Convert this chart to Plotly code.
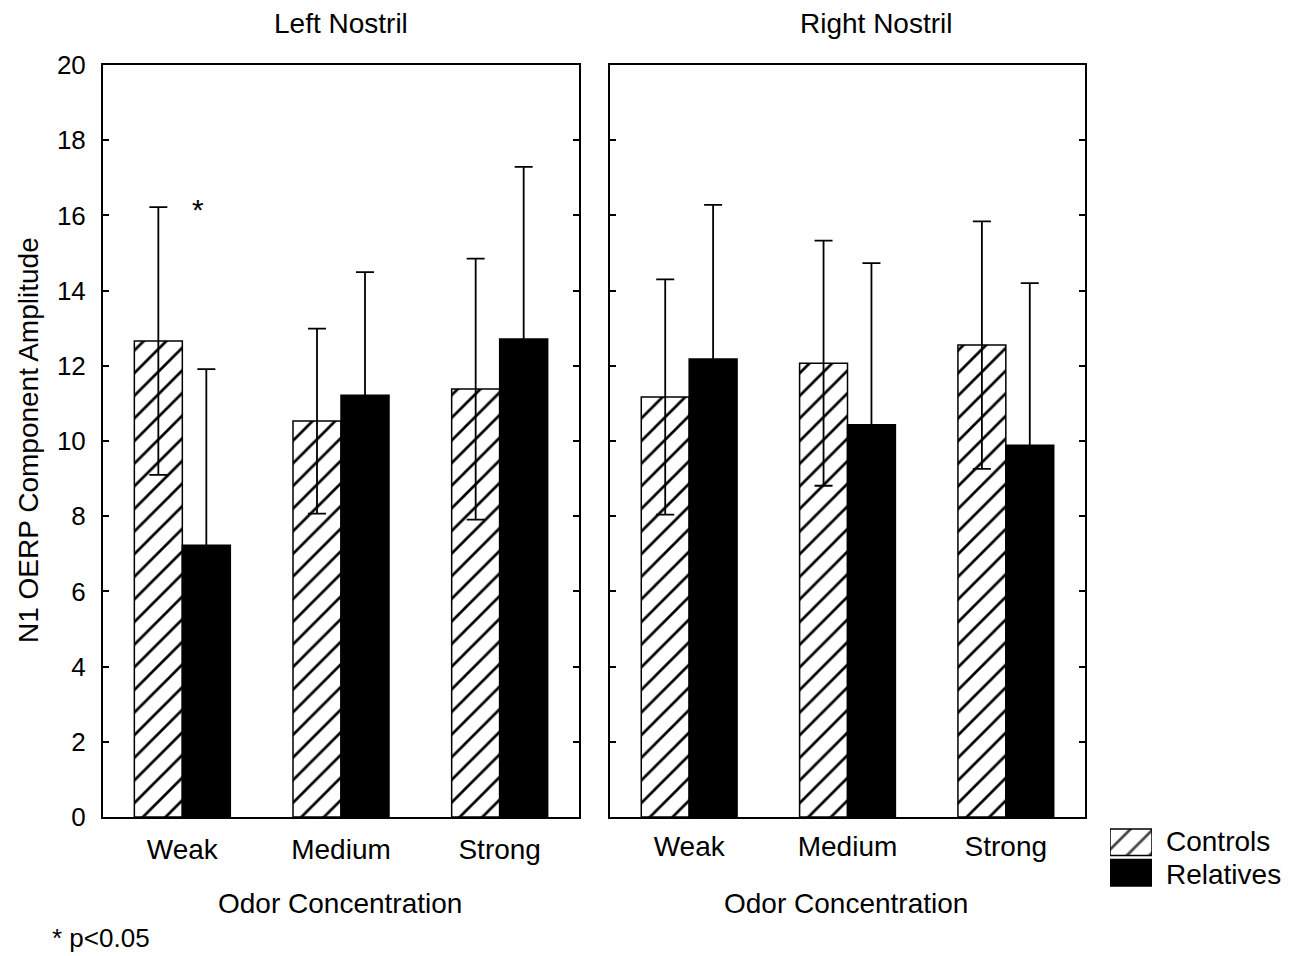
import plotly.graph_objects as go

categories = ["Weak", "Medium", "Strong"]
left_controls = [12.66, 10.53, 11.38]
left_controls_err = [3.56, 2.46, 3.47]
left_relatives = [7.23, 11.22, 12.71]
left_relatives_err = [4.68, 3.27, 4.58]
right_controls = [11.17, 12.07, 12.55]
right_controls_err = [3.13, 3.26, 3.29]
right_relatives = [12.18, 10.43, 9.89]
right_relatives_err = [4.10, 4.30, 4.31]
legend_labels = ["Relatives", "Controls"]

FONT = "Liberation Sans, Arial, sans-serif"
hatch = dict(shape="/", fgcolor="black", bgcolor="white", fgopacity=1, size=16, solidity=0.17)
err_style = dict(type="data", color="black", thickness=1.8, width=9, visible=True)

fig = go.Figure()

def add_panel(ctrl, ctrl_err, rel, rel_err, xa, ya):
    fig.add_trace(go.Bar(
        x=categories, y=ctrl, xaxis=xa, yaxis=ya, name="Controls",
        marker=dict(color="white", pattern=hatch, line=dict(color="black", width=1.5)),
        error_y=dict(array=ctrl_err, **err_style), showlegend=False))
    fig.add_trace(go.Bar(
        x=categories, y=rel, xaxis=xa, yaxis=ya, name="Relatives",
        marker=dict(color="black", line=dict(color="black", width=1.5)),
        error_y=dict(array=rel_err, **err_style), showlegend=False))

add_panel(left_controls, left_controls_err, left_relatives, left_relatives_err, "x", "y")
add_panel(right_controls, right_controls_err, right_relatives, right_relatives_err, "x2", "y2")

# legend swatches drawn as bars on a tiny hidden axis
fig.add_trace(go.Bar(
    y=legend_labels, x=[1, 1], orientation="h", xaxis="x3", yaxis="y3", width=0.87,
    marker=dict(color=["black", "white"],
                pattern=dict(shape=["", "/"], fgcolor="black", bgcolor="white", fgopacity=1,
                             size=16, solidity=0.17),
                line=dict(color="black", width=1.5)),
    showlegend=False, hoverinfo="skip"))

OFF = 8  # page body margin
W, H = 1299 - OFF, 956 - OFF
L = 103 - OFF
T = 65 - OFF
B = H - (900 - OFF)
R = W - (1280 - OFF)
pw = W - L - R
ph = H - T - B

def px(xp):  # page pixel -> paper
    return (xp - OFF - L) / pw

def py(yp):
    return (H - B - (yp - OFF)) / ph

yax = dict(range=[0, 20], dtick=2, ticks="inside", ticklen=6, tickwidth=2, tickcolor="black",
           showline=True, linecolor="black", linewidth=2, mirror="ticks", showgrid=False,
           zeroline=False, tickfont=dict(family=FONT, size=26, color="black"),
           domain=[py(817), py(65)])
xax = dict(showline=True, linecolor="black", linewidth=2, mirror=True, ticks="", showgrid=False,
           tickfont=dict(family=FONT, size=28, color="black"))

fig.update_layout(
    width=W, height=H,
    margin=dict(l=L, r=R, t=T, b=B),
    paper_bgcolor="white", plot_bgcolor="white",
    barmode="group", bargap=0.395, bargroupgap=0,
    showlegend=False,
    font=dict(family=FONT, size=28, color="black"),
    xaxis=dict(domain=[px(103), px(579)], anchor="y", ticklabelstandoff=6, **xax),
    yaxis=dict(anchor="x", ticklabelstandoff=10, **yax),
    xaxis2=dict(domain=[px(610), px(1085)], anchor="y2", ticklabelstandoff=3, **xax),
    yaxis2=dict(anchor="x2", showticklabels=False, **yax),
    xaxis3=dict(domain=[px(1110), px(1152)], anchor="y3", range=[0, 1], visible=False, fixedrange=True),
    yaxis3=dict(domain=[py(888), py(827)], anchor="x3", visible=False, type="category",
                categoryorder="array", categoryarray=legend_labels, fixedrange=True),
)

ann = [
    dict(text="Left Nostril", x=px(341), y=py(23), xref="paper", yref="paper", showarrow=False,
         xanchor="center", yanchor="middle", font=dict(size=28)),
    dict(text="Right Nostril", x=px(876), y=py(23), xref="paper", yref="paper", showarrow=False,
         xanchor="center", yanchor="middle", font=dict(size=28)),
    dict(text="Odor Concentration", x=px(340), y=py(903), xref="paper", yref="paper", showarrow=False,
         xanchor="center", yanchor="middle", font=dict(size=28)),
    dict(text="Odor Concentration", x=px(846), y=py(903), xref="paper", yref="paper", showarrow=False,
         xanchor="center", yanchor="middle", font=dict(size=28)),
    dict(text="N1 OERP Component Amplitude", x=px(28), y=py(440), xref="paper", yref="paper",
         showarrow=False, textangle=-90, xanchor="center", yanchor="middle", font=dict(size=28)),
    dict(text="* p<0.05", x=px(50), y=py(938), xref="paper", yref="paper", showarrow=False,
         xanchor="left", yanchor="middle", font=dict(size=26)),
    dict(text="Controls", x=px(1164), y=py(841), xref="paper", yref="paper", showarrow=False,
         xanchor="left", yanchor="middle", font=dict(size=28)),
    dict(text="Relatives", x=px(1164), y=py(874), xref="paper", yref="paper", showarrow=False,
         xanchor="left", yanchor="middle", font=dict(size=28)),
    dict(text="*", x="Weak", y=left_controls[0] + left_controls_err[0], xref="x", yref="y",
         showarrow=False, xshift=16, yshift=-2, xanchor="center", yanchor="middle",
         font=dict(size=30)),
]
fig.update_layout(annotations=ann)

fig.write_html("out.html")
